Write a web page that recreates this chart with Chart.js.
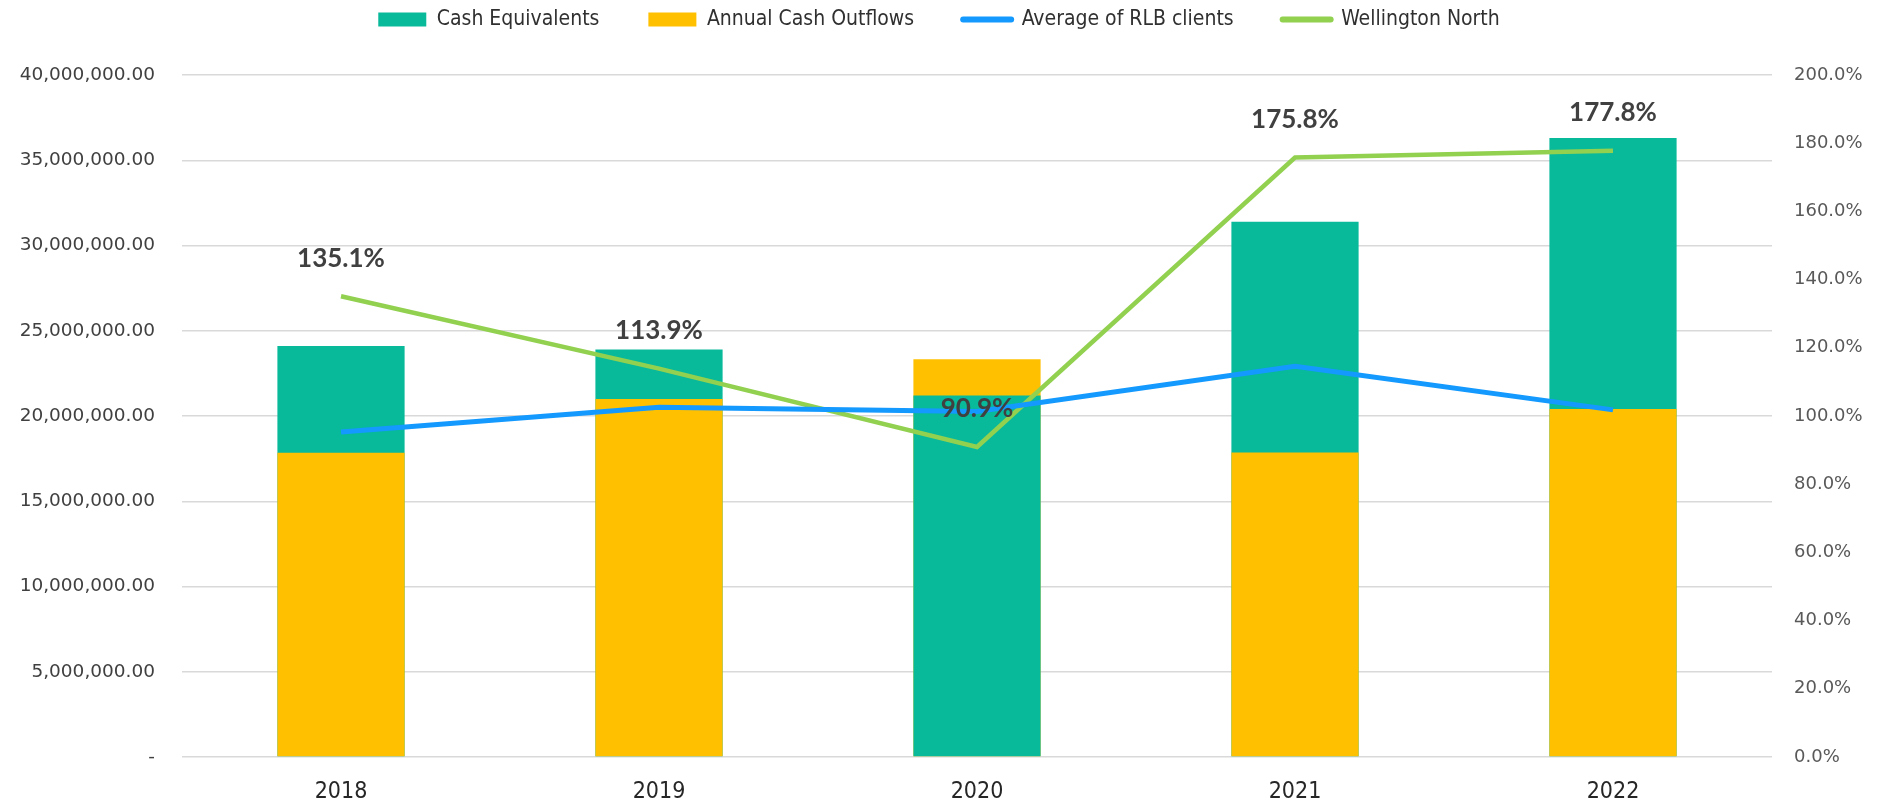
<!DOCTYPE html>
<html>
<head>
<meta charset="utf-8">
<script src="https://cdn.jsdelivr.net/npm/chart.js@4.4.1/dist/chart.umd.min.js"></script>
<style>
  html, body { margin: 0; padding: 0; background: #fff; }
  canvas { display: block; }
</style>
</head>
<body>
<canvas id="cashChart" width="1878" height="803"></canvas>
<script>
var years = ["2018", "2019", "2020", "2021", "2022"];
var cashEquivalents = [24100000, 23900000, 21200000, 31400000, 36300000];
var cashOutflows = [17840000, 21000000, 23330000, 17860000, 20410000];
var rlbAverage = [95.3, 102.6, 101.3, 114.6, 101.8];
var wellingtonNorth = [135.1, 113.9, 90.9, 175.8, 177.8];

var leftTicks = [0, 5000000, 10000000, 15000000, 20000000, 25000000, 30000000, 35000000, 40000000];
var rightTicks = [0, 20, 40, 60, 80, 100, 120, 140, 160, 180, 200];

var TEAL = "#08B99A", GOLD = "#FFC000", BLUE = "#1499FF", GREEN = "#92D050";
var narrow = "'Liberation Sans Narrow', 'DejaVu Sans Condensed', 'Liberation Sans', sans-serif";

// the taller bar sits behind, the shorter one in front (overlapping bars)
var cashBack = cashEquivalents.map(function (v, i) { return v > cashOutflows[i] ? v : null; });
var cashFront = cashEquivalents.map(function (v, i) { return v > cashOutflows[i] ? null : v; });

window.drawCashChart = function () {
    var ctx = document.getElementById("cashChart").getContext("2d");
    new Chart(ctx, {
        data: {
            labels: years,
            datasets: [
                { type: 'bar', label: 'Cash Equivalents', data: cashBack, backgroundColor: TEAL, yAxisID: 'y', order: 3, grouped: false },
                { type: 'bar', label: 'Annual Cash Outflows', data: cashOutflows, backgroundColor: GOLD, yAxisID: 'y', order: 2, grouped: false },
                { type: 'bar', label: 'Cash Equivalents', data: cashFront, backgroundColor: TEAL, yAxisID: 'y', order: 1, grouped: false },
                { type: 'line', label: 'Average of RLB clients', data: rlbAverage, borderColor: BLUE, backgroundColor: BLUE,
                  borderWidth: 5, pointRadius: 0, tension: 0, yAxisID: 'y1', order: 0 },
                { type: 'line', label: 'Wellington North', data: wellingtonNorth, borderColor: GREEN, backgroundColor: GREEN,
                  borderWidth: 4.5, pointRadius: 0, tension: 0, yAxisID: 'y1', order: 0 }
            ]
        },
        options: {
            responsive: false,
            animation: false,
            maintainAspectRatio: false,
            layout: { padding: { top: -40, left: 0, right: 0, bottom: 0 } },
            datasets: { bar: { barPercentage: 0.4, categoryPercentage: 1 } },
            scales: {
                x: {
                    grid: { display: false },
                    border: { display: false },
                    ticks: { color: '#262626', font: { family: narrow, size: 23 }, padding: 13 },
                    afterFit: function (s) { s.height = 46; }
                },
                y: {
                    position: 'left',
                    min: 0, max: 40000000,
                    afterBuildTicks: function (s) { s.ticks = leftTicks.map(function (v) { return { value: v }; }); },
                    grid: { color: '#d9d9d9', lineWidth: 1.5, drawTicks: false },
                    border: { display: false },
                    ticks: {
                        color: '#404040', padding: 27,
                        font: { family: 'DejaVu Sans', size: 18.5 },
                        callback: function (v) {
                            return v === 0 ? '-' : v.toLocaleString('en-US', { minimumFractionDigits: 2, maximumFractionDigits: 2 });
                        }
                    },
                    afterFit: function (s) { s.width = 182; }
                },
                y1: {
                    position: 'right',
                    min: 0, max: 200,
                    afterBuildTicks: function (s) { s.ticks = rightTicks.map(function (v) { return { value: v }; }); },
                    grid: { display: false, drawTicks: false },
                    border: { display: false },
                    ticks: {
                        color: '#595959', padding: 22,
                        font: { family: 'DejaVu Sans', size: 18 },
                        callback: function (v) { return v.toFixed(1) + '%'; }
                    },
                    afterFit: function (s) { s.width = 106; }
                }
            },
            plugins: {
                tooltip: { enabled: false },
                legend: {
                    position: 'top',
                    labels: {
                        usePointStyle: true,
                        pointStyleWidth: 48,
                        boxHeight: 14,
                        padding: 49,
                        color: '#303030',
                        font: { family: narrow, size: 21 },
                        generateLabels: function (chart) {
                            var items = Chart.defaults.plugins.legend.labels.generateLabels(chart);
                            items = items.filter(function (it) { return it.datasetIndex !== 2; });
                            items.sort(function (a, b) { return a.datasetIndex - b.datasetIndex; });
                            items.forEach(function (it) {
                                var ds = chart.data.datasets[it.datasetIndex];
                                if (ds.type === 'line') {
                                    it.pointStyle = 'line';
                                    it.strokeStyle = ds.borderColor;
                                    it.lineWidth = 6;
                                    it.lineCap = 'round';
                                } else {
                                    it.pointStyle = 'rect';
                                    it.fillStyle = ds.backgroundColor;
                                    it.lineWidth = 0;
                                }
                            });
                            return items;
                        }
                    }
                }
            }
        },
        plugins: [{
            id: 'legendHeight',
            beforeInit: function (chart) {
                var legend = chart.legend;
                var fit = legend.fit;
                legend.fit = function () {
                    fit.call(legend);
                    legend.height = 115;
                };
            }
        }, {
            id: 'pctLabels',
            afterDatasetsDraw: function (chart) {
                var meta = chart.getDatasetMeta(4);
                var c = chart.ctx;
                c.save();
                c.font = "bold 26px Lato";
                c.fillStyle = "#404040";
                c.textAlign = "center";
                c.textBaseline = "middle";
                meta.data.forEach(function (pt, i) {
                    c.fillText(wellingtonNorth[i].toFixed(1) + "%", pt.x, pt.y - 38);
                });
                c.restore();
            }
        }]
    });
};

window.drawCashChart();
</script>
</body>
</html>
